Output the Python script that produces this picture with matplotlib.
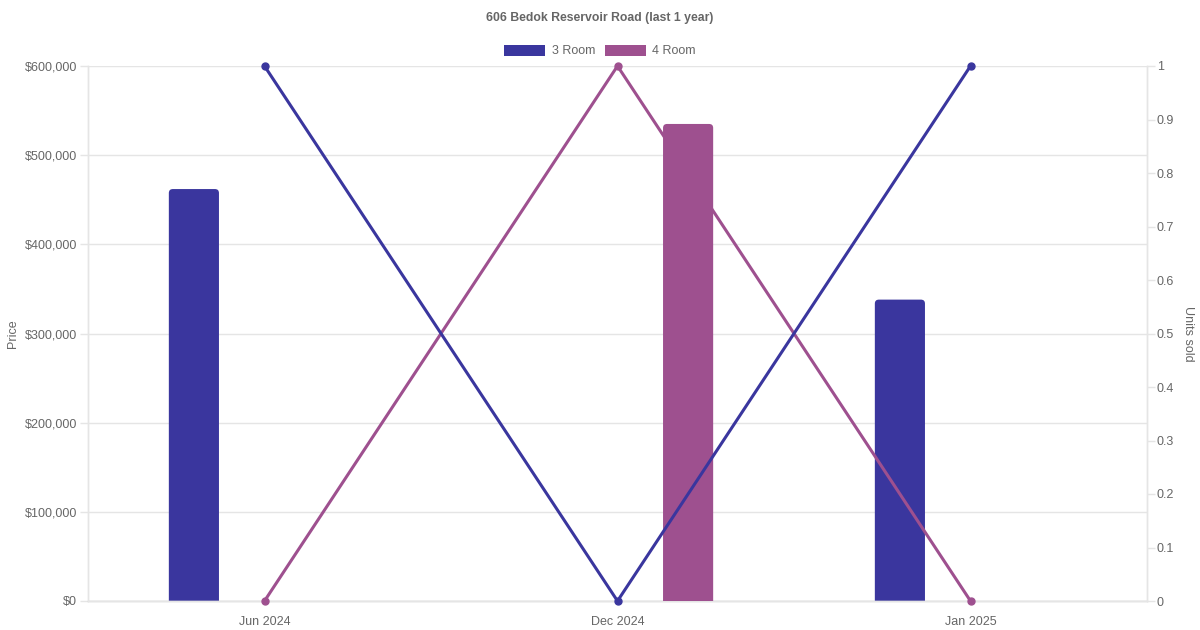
import numpy as np
import matplotlib
matplotlib.use("Agg")
from matplotlib import pyplot as plt
from matplotlib.patches import FancyBboxPatch, Patch

plt.rcParams["font.family"] = ["Liberation Sans", "DejaVu Sans"]

# ---------------------------------------------------------------- data
months = ["Jun 2024", "Dec 2024", "Jan 2025"]
price_3room = [462000, np.nan, 338000]
price_4room = [np.nan, 535000, np.nan]
units_3room = [1, 0, 1]
units_4room = [0, 1, 0]

BLUE = "#3A369E"
PURPLE = "#9E508F"
GRID = "#e5e5e5"
TXT = "#666666"

# ---------------------------------------------------------------- figure
W, H = 1200, 630
fig = plt.figure(figsize=(12, 6.3), dpi=100)
L, R, T, B = 88, 1147, 66, 601
ax = fig.add_axes([L / W, 1 - B / H, (R - L) / W, (B - T) / H])
ax2 = ax.twinx()

x = np.arange(len(months))
off, bw = 0.2, 0.142

ax.set_xlim(-0.5, len(months) - 0.5)
ax.set_ylim(0, 600000)
ax2.set_ylim(0, 1)

# bars with rounded top corners (4 px)
px_x = len(months) / (R - L)
rad = 4 * px_x


def rounded_bars(a, xs, vals, scale, color, z):
    bars = a.bar(xs, np.asarray(vals) / scale, width=bw, color=color, zorder=z)
    py = (a.get_ylim()[1] - a.get_ylim()[0]) / (B - T)
    for rect in bars:
        h = rect.get_height()
        if not np.isfinite(h) or h == 0:
            continue
        rect.set_visible(False)
        a.add_patch(FancyBboxPatch((rect.get_x(), -6 * py), rect.get_width(), h + 6 * py,
                                   boxstyle=f"round,pad=0,rounding_size={rad}",
                                   mutation_aspect=py / px_x, fc=color, ec="none",
                                   zorder=z))


ax.set_zorder(1)
ax2.set_zorder(2)
ax2.patch.set_visible(False)

rounded_bars(ax, x - off, price_3room, 1, BLUE, 2)
ax2.plot(x, units_4room, color=PURPLE, lw=2.2, marker="o", ms=5, zorder=3, clip_on=False)
# purple bar sits above the purple line but below the blue line
rounded_bars(ax2, x + off, price_4room, 600000, PURPLE, 4)
ax2.plot(x, units_3room, color=BLUE, lw=2.2, marker="o", ms=5, zorder=5, clip_on=False)
ax2.set_ylim(0, 1)

# ---------------------------------------------------------------- axes styling
ax.set_yticks(np.arange(0, 600001, 100000))
ax.yaxis.set_major_formatter(matplotlib.ticker.FuncFormatter(lambda v, p: f"${v:,.0f}"))
ax.grid(axis="y", color=GRID, lw=1, zorder=0)
ax.set_axisbelow(True)
ax.set_xticks(x)
ax.set_xticklabels(months)
ax2.set_yticks(np.round(np.arange(0, 1.01, 0.1), 1))
ax2.set_yticklabels(["0"] + [f"{v:.1f}" for v in np.arange(0.1, 0.95, 0.1)] + ["1"])

for a in (ax, ax2):
    for s in a.spines.values():
        s.set_color(GRID)
        s.set_linewidth(1)
    a.spines["top"].set_visible(False)
    a.tick_params(colors=GRID, labelcolor=TXT, labelsize=9, length=6, width=1, pad=2)
ax2.tick_params(axis="y", pad=1)
ax.spines["bottom"].set_color("#d0d0d0")
ax.tick_params(axis="x", length=0, pad=11)

ax.set_ylabel("Price", color=TXT, fontsize=9, labelpad=4)
ax2.set_ylabel("Units sold", color=TXT, fontsize=9, rotation=270, labelpad=14)

fig.text(0.5, 1 - 18 / H, "606 Bedok Reservoir Road (last 1 year)", ha="center",
         va="center", fontsize=8.8, weight="bold", color=TXT)

handles = [Patch(fc=BLUE, ec="none", label="3 Room"),
           Patch(fc=PURPLE, ec="none", label="4 Room")]
fig.legend(handles=handles, loc="center", bbox_to_anchor=(0.5, 1 - 51 / H), ncol=2,
           frameon=False, fontsize=9, labelcolor=TXT, handlelength=3.3,
           handleheight=1.0, handletextpad=0.5, columnspacing=0.8)

fig.savefig("out.png", dpi=100, facecolor="white")
